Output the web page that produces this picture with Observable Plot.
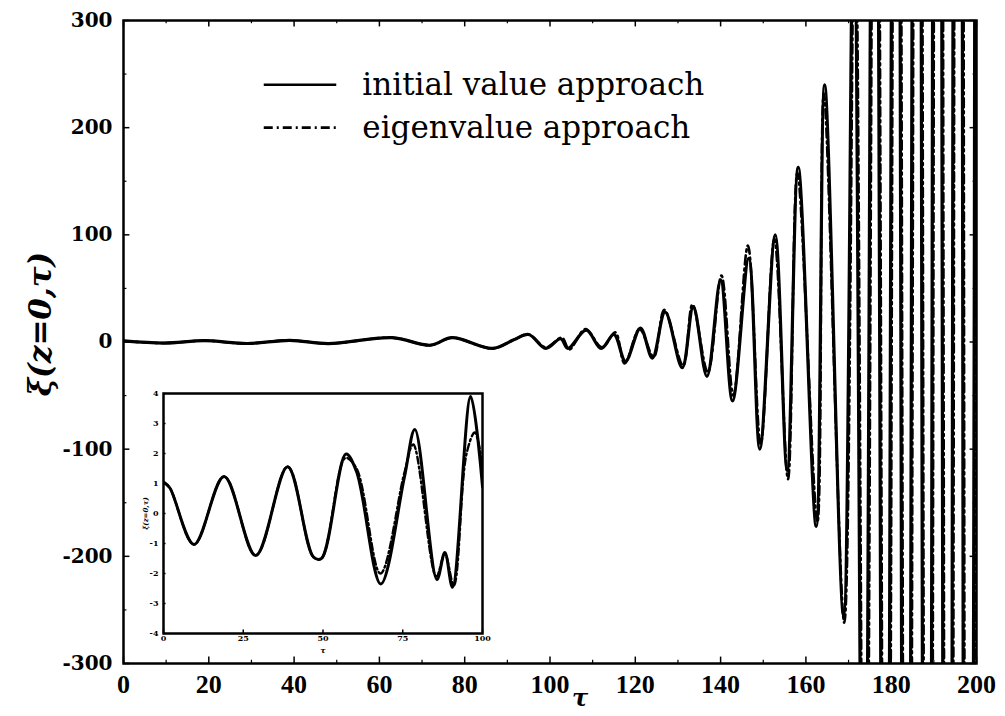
<!DOCTYPE html>
<html>
<head>
<meta charset="utf-8">
<script src="https://cdn.jsdelivr.net/npm/d3@7"></script>
<script src="https://cdn.jsdelivr.net/npm/@observablehq/plot@0.6"></script>
<style>
  body { margin: 0; background: #fff; }
  #fig { position: relative; width: 1005px; height: 716px; }
  #inset { position: absolute; left: 139px; top: 385px; }
</style>
</head>
<body>
<div id="fig"><div id="main"></div><div id="inset"></div></div>
<script>
// ξ(z=0,τ) at the turning points of the two solutions (main panel)
const tauInitial = [0, 9.6, 19, 29, 39, 48, 63, 72, 77, 86.5, 91.5, 95, 99, 102.5, 104.2, 108.5, 112, 115, 117.7, 121.2, 124, 127, 131, 133.6, 136.8, 140, 142.8, 146.6, 149.2, 152.8, 155.6, 158.2, 162.4, 164.4, 168.8, 171.2, 173.6, 176.1, 178.6, 181.1, 183.5, 186, 188.4, 190.8, 193.2, 195.6, 198, 200.4];
const xiInitial  = [1, -1, 1.2, -1.4, 1.6, -1.5, 4, -3, 4, -6, 2, 7, -6, 3, -6, 11, -6, 7, -18, 13, -15, 28, -24, 33, -32, 58, -55, 78, -100, 100, -120, 163, -172, 240, -255, 420, -700, 900, -1100, 1300, -1500, 1700, -1900, 2100, -2300, 2500, -2700, 2900];

const tauEigen = [0, 9.6, 19, 29, 39, 48, 63, 72, 77, 86.5, 91.5, 95, 99, 102.8, 104.5, 108.3, 112.2, 115.3, 117.5, 121, 124.3, 126.8, 131.2, 133.4, 137, 140.2, 143, 146.4, 149.4, 152.6, 155.8, 158, 162.7, 164.2, 169, 171.5, 173.9, 176.4, 178.9, 181.4, 183.8, 186.3, 188.7, 191.1, 193.5, 195.9, 198.3, 200.7];
const xiEigen  = [1, -1, 1.2, -1.4, 1.6, -1.5, 4, -3, 4, -6, 2, 7, -5, 4, -7, 12, -5, 9, -20, 12, -14, 30, -22, 35, -28, 62, -50, 90, -95, 96, -128, 158, -168, 232, -262, 430, -720, 920, -1120, 1320, -1520, 1720, -1920, 2120, -2320, 2520, -2720, 2920];

// early-time detail (inset)
const tauInsetInitial = [0, 2, 9.6, 19, 28.9, 38.9, 47, 49.5, 57.2, 60.5, 68.1, 75.5, 78.8, 85.7, 88.2, 90.6, 96.3, 100];
const xiInsetInitial  = [1.05, 0.85, -1.03, 1.23, -1.4, 1.56, -1.45, -1.5, 1.98, 1.4, -2.35, 1.2, 2.8, -2.2, -1.3, -2.46, 3.9, 0.9];
const tauInsetEigen = [0, 2, 9.6, 19, 28.9, 38.9, 47, 49.5, 57, 60.5, 68, 75.5, 78.3, 85.5, 88.2, 91, 95, 97.6, 100];
const xiInsetEigen  = [1.05, 0.85, -1.03, 1.23, -1.4, 1.56, -1.45, -1.5, 1.85, 1.5, -2.0, 1.35, 2.3, -2.1, -1.35, -2.4, 2.0, 2.7, 1.6];

// axes
const xTicks = [0, 20, 40, 60, 80, 100, 120, 140, 160, 180, 200];
const xMinor = [10, 30, 50, 70, 90, 110, 130, 150, 170, 190];
const yTicks = [-300, -200, -100, 0, 100, 200, 300];
const yMinor = [-250, -150, -50, 50, 150, 250];
const insetXTicks = [0, 25, 50, 75, 100];
const insetYTicks = [-4, -3, -2, -1, 0, 1, 2, 3, 4];

// legend
const legendLabels = ["initial value approach", "eigenvalue approach"];
const legendY = [240, 200];
const legendX = [33, 50, 56];

const toRows = (t, v) => t.map((d, i) => ({tau: d, xi: v[i]}));
const initial = toRows(tauInitial, xiInitial);
const eigen = toRows(tauEigen, xiEigen);
const insetInitial = toRows(tauInsetInitial, xiInsetInitial);
const insetEigen = toRows(tauInsetEigen, xiInsetEigen);
const legend = legendLabels.map((label, i) => ({label, y: legendY[i]}));

const serif = "'DejaVu Serif', serif";
const solidDash = "none";
const dashDot = "9,4,2,4";

const main = Plot.plot({
  width: 1005,
  height: 716,
  marginLeft: 123,
  marginRight: 29,
  marginTop: 20,
  marginBottom: 53,
  style: {fontFamily: serif, background: "transparent", color: "#000"},
  x: {domain: [0, 200]},
  y: {domain: [-300, 300]},
  marks: [
    Plot.line(initial, {x: "tau", y: "xi", curve: "catmull-rom", stroke: "#000", strokeWidth: 3.2, clip: true}),
    Plot.line(eigen, {x: "tau", y: "xi", curve: "catmull-rom", stroke: "#000", strokeWidth: 2.6, strokeDasharray: dashDot, clip: true}),
    // inward ticks on all four sides
    Plot.ruleX(xTicks, {y1: -300, y2: -294, stroke: "#000", strokeWidth: 1.5}),
    Plot.ruleX(xTicks, {y1: 300, y2: 294, stroke: "#000", strokeWidth: 1.5}),
    Plot.ruleX(xMinor, {y1: -300, y2: -297, stroke: "#000", strokeWidth: 1.2}),
    Plot.ruleX(xMinor, {y1: 300, y2: 297, stroke: "#000", strokeWidth: 1.2}),
    Plot.ruleY(yTicks, {x1: 0, x2: 1.5, stroke: "#000", strokeWidth: 1.5}),
    Plot.ruleY(yTicks, {x1: 200, x2: 198.5, stroke: "#000", strokeWidth: 1.5}),
    Plot.ruleY(yMinor, {x1: 0, x2: 0.8, stroke: "#000", strokeWidth: 1.2}),
    Plot.ruleY(yMinor, {x1: 200, x2: 199.2, stroke: "#000", strokeWidth: 1.2}),
    Plot.frame({stroke: "#000", strokeWidth: 2.5}),
    Plot.axisY(yTicks, {tickSize: 0, tickPadding: 11, fontSize: 20, fontWeight: "bold", tickFormat: d => String(d), label: null}),
    Plot.axisX(xTicks, {tickSize: 0, tickPadding: 11, fontSize: 26, fontWeight: "bold", fontFamily: "'Liberation Serif', serif", tickFormat: d => String(d), label: null}),
    Plot.text(["ξ(z=0,τ)"], {frameAnchor: "left", textAnchor: "middle", rotate: -90, dx: -82, dy: -18, fontSize: 31, fontWeight: "bold", fontStyle: "italic"}),
    Plot.text(["τ"], {frameAnchor: "bottom", textAnchor: "middle", dy: 42, dx: 30, fontSize: 24, fontWeight: "bold", fontStyle: "italic"}),
    // legend
    Plot.ruleY(legend.slice(0, 1), {y: "y", x1: legendX[0], x2: legendX[1], stroke: "#000", strokeWidth: 2.6, strokeDasharray: solidDash}),
    Plot.ruleY(legend.slice(1), {y: "y", x1: legendX[0], x2: legendX[1], stroke: "#000", strokeWidth: 2.6, strokeDasharray: dashDot}),
    Plot.text(legend, {x: legendX[2], y: "y", text: "label", textAnchor: "start", fontSize: 31})
  ]
});
document.getElementById("main").append(main);

const inset = Plot.plot({
  width: 356,
  height: 272,
  marginLeft: 24,
  marginRight: 13,
  marginTop: 8,
  marginBottom: 24,
  style: {fontFamily: serif, background: "transparent", color: "#000"},
  x: {domain: [0, 100]},
  y: {domain: [-4, 4]},
  marks: [
    Plot.frame({fill: "#fff", stroke: "none"}),
    Plot.line(insetInitial, {x: "tau", y: "xi", curve: "catmull-rom", stroke: "#000", strokeWidth: 3, clip: true}),
    Plot.line(insetEigen, {x: "tau", y: "xi", curve: "catmull-rom", stroke: "#000", strokeWidth: 2.4, strokeDasharray: "7,3,2,3", clip: true}),
    Plot.ruleX(insetXTicks, {y1: -4, y2: -3.88, stroke: "#000", strokeWidth: 1.5}),
    Plot.ruleY(insetYTicks, {x1: 0, x2: 0.8, stroke: "#000", strokeWidth: 1.5}),
    Plot.frame({stroke: "#000", strokeWidth: 2.5}),
    Plot.axisY(insetYTicks, {tickSize: 0, tickPadding: 5, fontSize: 8, fontWeight: "bold", tickFormat: d => String(d), label: null}),
    Plot.axisX(insetXTicks, {tickSize: 0, tickPadding: 2, fontSize: 8, fontWeight: "bold", tickFormat: d => String(d), label: null}),
    Plot.text(["ξ(z=0,τ)"], {frameAnchor: "left", textAnchor: "middle", rotate: -90, dx: -18, fontSize: 7, fontWeight: "bold", fontStyle: "italic"}),
    Plot.text(["τ"], {frameAnchor: "bottom", textAnchor: "middle", dy: 19, fontSize: 8, fontWeight: "bold", fontStyle: "italic"})
  ]
});
document.getElementById("inset").append(inset);
</script>
</body>
</html>
